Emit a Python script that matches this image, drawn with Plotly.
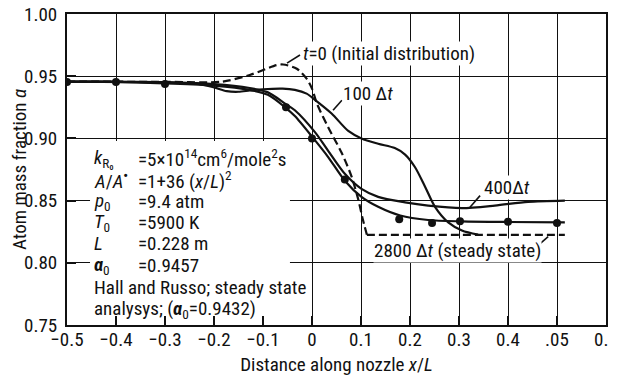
import plotly.graph_objects as go

# ---------------- data ----------------
x_ticks = [-0.5, -0.4, -0.3, -0.2, -0.1, 0.0, 0.1, 0.2, 0.3, 0.4, 0.5, 0.6]
x_ticktext = ["−0.5", "−0.4", "−0.3", "−0.2", "−0.1", "0", "0.1", "0.2", "0.3", "0.4", ".05", "0.6"]
y_ticks = [0.75, 0.80, 0.85, 0.90, 0.95, 1.00]
y_ticktext = ["0.75", "0.80", "0.85", "0.90", "0.95", "1.00"]

# t=0 initial distribution (dashed), upper part
t0_x = [-0.5, -0.3, -0.184, -0.127, -0.072, -0.059, -0.031, -0.011, 0.0, 0.01, 0.033, 0.061, 0.081, 0.095, 0.103, 0.112]
t0_y = [0.9457, 0.9455, 0.9456, 0.951, 0.9589, 0.9594, 0.956, 0.948, 0.940, 0.928, 0.909, 0.888, 0.869, 0.850, 0.836, 0.8225]
# 2800 dt steady state (dashed), flat part
ss_x = [0.112, 0.30, 0.516]
ss_y = [0.8225, 0.8225, 0.8225]

# 100 dt
c100_x = [-0.5, -0.3, -0.23, -0.2, -0.174, -0.15, -0.127, -0.1, -0.06, -0.035, -0.011, 0.006, 0.04, 0.074, 0.101,
          0.135, 0.169, 0.19, 0.21, 0.231, 0.251, 0.278, 0.306, 0.339]
c100_y = [0.9456, 0.9452, 0.9437, 0.941, 0.938, 0.9375, 0.9385, 0.9395, 0.940, 0.939, 0.936, 0.931, 0.920, 0.906,
          0.900, 0.8957, 0.8922, 0.887, 0.877, 0.861, 0.845, 0.8325, 0.826, 0.8226]

# 400 dt
c400_x = [-0.5, -0.3, -0.2, -0.127, -0.09, -0.055, -0.035, 0.006, 0.033, 0.067, 0.101, 0.135, 0.19, 0.237, 0.306,
          0.373, 0.441, 0.516]
c400_y = [0.9457, 0.9450, 0.9437, 0.9405, 0.937, 0.928, 0.9226, 0.905, 0.890, 0.8715, 0.8594, 0.853, 0.8486, 0.846,
          0.844, 0.846, 0.849, 0.850]

# steady-state solid curve through Hall & Russo points
css_x = [-0.5, -0.4, -0.3, -0.2, -0.127, -0.09, -0.055, -0.035, 0.003, 0.033, 0.067, 0.101, 0.135, 0.18, 0.237,
         0.306, 0.4, 0.516]
css_y = [0.9455, 0.9455, 0.9443, 0.9425, 0.939, 0.935, 0.925, 0.918, 0.900, 0.885, 0.866, 0.853, 0.845, 0.838,
         0.8344, 0.8333, 0.8328, 0.8325]

# Hall and Russo steady state analysis points
hr_x = [-0.5, -0.4, -0.3, -0.053, 0.0, 0.067, 0.178, 0.245, 0.302, 0.40, 0.50]
hr_y = [0.9454, 0.9454, 0.9437, 0.925, 0.900, 0.867, 0.835, 0.832, 0.8333, 0.833, 0.832]

FONT = "Roboto Condensed, DejaVu Sans Condensed, sans-serif"
FS = 19
BLACK = "#111111"

fig = go.Figure()
line_w = 2.2
fig.add_trace(go.Scatter(x=t0_x, y=t0_y, mode="lines", line=dict(color=BLACK, width=line_w, dash="8px,4px", shape="spline", smoothing=0.8)))
fig.add_trace(go.Scatter(x=ss_x, y=ss_y, mode="lines", line=dict(color=BLACK, width=line_w, dash="8px,4px")))
fig.add_trace(go.Scatter(x=c100_x, y=c100_y, mode="lines", line=dict(color=BLACK, width=line_w, shape="spline", smoothing=0.8)))
fig.add_trace(go.Scatter(x=c400_x, y=c400_y, mode="lines", line=dict(color=BLACK, width=line_w, shape="spline", smoothing=0.8)))
fig.add_trace(go.Scatter(x=css_x, y=css_y, mode="lines", line=dict(color=BLACK, width=line_w, shape="spline", smoothing=0.8)))
fig.add_trace(go.Scatter(x=hr_x, y=hr_y, mode="markers", marker=dict(color=BLACK, size=8)))

# white box behind the parameter text (covers grid)
fig.add_shape(type="rect", x0=-0.453, x1=-0.045, y0=0.752, y1=0.898, xref="x", yref="y",
              fillcolor="white", line=dict(width=0), layer="between")

# leader lines
for (xa, ya, xb, yb) in [(-0.051, 0.9605, -0.0245, 0.967),
                         (0.043, 0.9226, 0.061, 0.9306),
                         (0.322, 0.8444, 0.343, 0.854),
                         (0.465, 0.8153, 0.482, 0.821)]:
    fig.add_shape(type="line", x0=xa, y0=ya, x1=xb, y1=yb, xref="x", yref="y",
                  line=dict(color=BLACK, width=1.6), layer="above")

def ann(x, y, text, bg=None, xanchor="left"):
    d = dict(x=x, y=y, xref="x", yref="y", text=text, showarrow=False, xanchor=xanchor, yanchor="middle",
             font=dict(family=FONT, size=FS, color=BLACK), borderpad=0)
    if bg:
        d["bgcolor"] = bg
    fig.add_annotation(**d)

ann(-0.0204, 0.9685, "<i>t</i>=0 (Initial distribution)", bg="white")
ann(0.0612, 0.9363, "100 Δ<i>t</i>", bg="white")
ann(0.349, 0.8605, "400Δ<i>t</i>", bg="white")
ann(0.1245, 0.8097, "2800 Δ<i>t</i> (steady state)", bg="white")

labels = ["<i>k</i><sub>R₀</sub>", "<i>A</i>/<i>A</i><sup><b>•</b></sup>",
          "<i>p</i><sub>0</sub>", "<i>T</i><sub>0</sub>", "<i>L</i>", "<b><i>α</i></b><sub>0</sub>"]
values = ["=5×10<sup>14</sup>cm<sup>6</sup>/mole<sup>2</sup>s", "=1+36 (<i>x</i>/<i>L</i>)<sup>2</sup>",
          "=9.4 atm", "=5900 K", "=0.228 m", "=0.9457"]
rows_y = [0.8839, 0.8661, 0.8494, 0.8325, 0.8153, 0.7976]
for lab, val, yy in zip(labels, values, rows_y):
    ann(-0.447, yy, lab)
    ann(-0.357, yy, val)
ann(-0.447, 0.7798, "Hall and Russo; steady state", bg="white")
ann(-0.447, 0.7621, "analysys; (<b><i>α</i></b><sub>0</sub>=0.9432)")

axis_common = dict(showgrid=True, gridcolor=BLACK, gridwidth=1.2, showline=True, linecolor=BLACK, linewidth=2,
                   mirror=True, ticks="inside", ticklen=9, tickcolor=BLACK, tickwidth=1.5, automargin=False,
                   ticklabeloverflow="allow",
                   tickfont=dict(family=FONT, size=FS, color=BLACK), zeroline=False)

fig.update_xaxes(range=[-0.5, 0.6], tickvals=x_ticks, ticktext=x_ticktext, ticklabelstandoff=-4,
                 title=dict(text="Distance along nozzle <i>x</i>/<i>L</i>", font=dict(family=FONT, size=FS, color=BLACK), standoff=8),
                 **axis_common)
fig.update_yaxes(range=[0.75, 1.0], tickvals=y_ticks, ticktext=y_ticktext, ticklabelstandoff=4,
                 title=dict(text="Atom mass fraction <i>α</i>", font=dict(family=FONT, size=FS, color=BLACK), standoff=4),
                 **axis_common)

# the page body adds an 8px margin: compensate so the plot area lands where the reference has it
fig.update_layout(width=609, height=370, margin=dict(l=59, r=11, t=6, b=53), showlegend=False,
                  plot_bgcolor="white", paper_bgcolor="white")

fig.write_html("out.html")
